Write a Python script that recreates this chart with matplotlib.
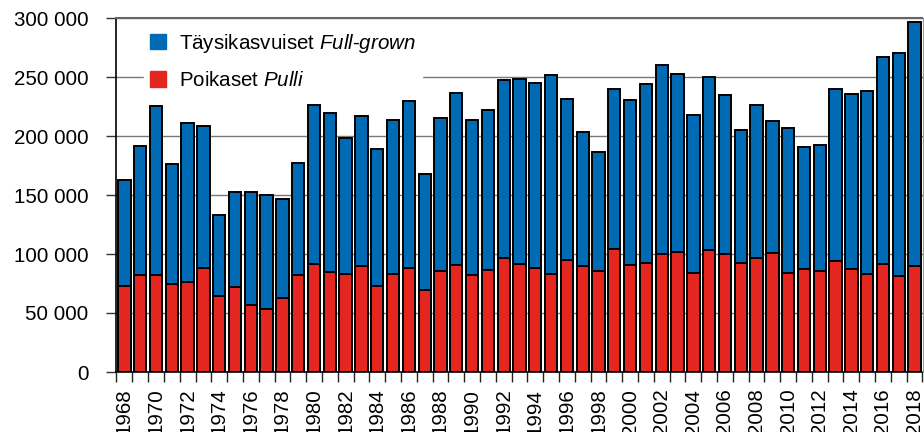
"""Stacked bars: full-grown vs pulli, 1968-2018."""
import numpy as np
import matplotlib
matplotlib.use("Agg")
import matplotlib.pyplot as plt
from matplotlib.patches import Patch
from matplotlib.ticker import FuncFormatter, FixedLocator

plt.rcParams["font.family"] = ["Liberation Sans", "DejaVu Sans"]
plt.rcParams["mathtext.fontset"] = "custom"
plt.rcParams["mathtext.it"] = "Liberation Sans:italic"
plt.rcParams["mathtext.rm"] = "Liberation Sans"

years = list(range(1968, 2019))
# total height of each bar (pulli + full-grown)
totals = [162700, 191800, 225400, 176600, 210700, 208500, 133100, 152600, 152600, 150300,
          146600, 177400, 226000, 219800, 198600, 217200, 188700, 213300, 229900, 168100,
          215000, 236200, 213600, 222000, 247500, 248000, 244900, 252000, 231400, 203700,
          186500, 239500, 230200, 244100, 259900, 252300, 218100, 250300, 234800, 204800,
          226300, 212700, 207100, 191000, 192700, 240100, 235900, 237900, 267200, 270600,
          296600]
pulli = [72900, 82200, 82500, 74300, 76600, 88400, 64700, 72300, 57100, 53100,
         63000, 82200, 91500, 85000, 83100, 90100, 73100, 83100, 88400, 69500,
         85600, 90700, 82200, 86400, 96600, 91500, 88400, 83100, 94900, 89800,
         85600, 104500, 90700, 92400, 100000, 102000, 84200, 103400, 100000, 92100,
         96300, 101100, 83600, 87600, 85900, 94100, 87000, 83100, 91500, 81400,
         90100]
full_grown = [t - p for t, p in zip(totals, pulli)]

BLUE = "#006ab4"
RED = "#e32620"

fig = plt.figure(figsize=(9.24, 4.32), dpi=100)
ax = fig.add_axes([116.5 / 924, 1 - 372 / 432, 806 / 924, 354 / 432])

x = np.arange(len(years))
ax.bar(x, pulli, width=0.78, color=RED, edgecolor="black", linewidth=1.4, zorder=3)
ax.bar(x, full_grown, bottom=pulli, width=0.78, color=BLUE, edgecolor="black",
       linewidth=1.4, zorder=3)

ax.set_xlim(-0.5, len(years) - 0.5)
ax.set_ylim(0, 300000)
ax.set_yticks(range(0, 300001, 50000))
ax.yaxis.set_major_formatter(FuncFormatter(lambda v, _: f"{int(v):,}".replace(",", " ")))
ax.yaxis.grid(True, color="#777777", linewidth=1.0, zorder=0)

ax.set_xticks(x[::2])
ax.set_xticklabels([str(y) for y in years[::2]], rotation=90)
ax.xaxis.set_minor_locator(FixedLocator(np.arange(-0.5, len(years), 1.0)))
ax.tick_params(axis="x", which="major", length=0, pad=12, labelsize=14.8)
ax.tick_params(axis="x", which="minor", length=7.5, width=1, color="#222222")
ax.tick_params(axis="y", length=7, width=1, color="#333333", labelsize=14.8, pad=13)

for s in ("left", "bottom"):
    ax.spines[s].set_color("black")
    ax.spines[s].set_linewidth(1.2)
ax.spines["top"].set_color("#666666")
ax.spines["top"].set_linewidth(1.5)
ax.spines["right"].set_color("#999999")
ax.spines["right"].set_linewidth(0.8)

handles = [Patch(color=BLUE), Patch(color=RED)]
labels = ["Täysikasvuiset $\\mathit{Full}$-$\\mathit{grown}$", "Poikaset $\\mathit{Pulli}$"]
leg = ax.legend(handles, labels, loc="upper left", bbox_to_anchor=(0.021, 1.008),
                frameon=True, fancybox=False, framealpha=1, edgecolor="white",
                fontsize=14.8, handlelength=0.8, handleheight=0.8, handletextpad=0.6,
                labelspacing=0.82, borderpad=0.3)
leg.set_zorder(2)

fig.savefig("out.png", dpi=100)
